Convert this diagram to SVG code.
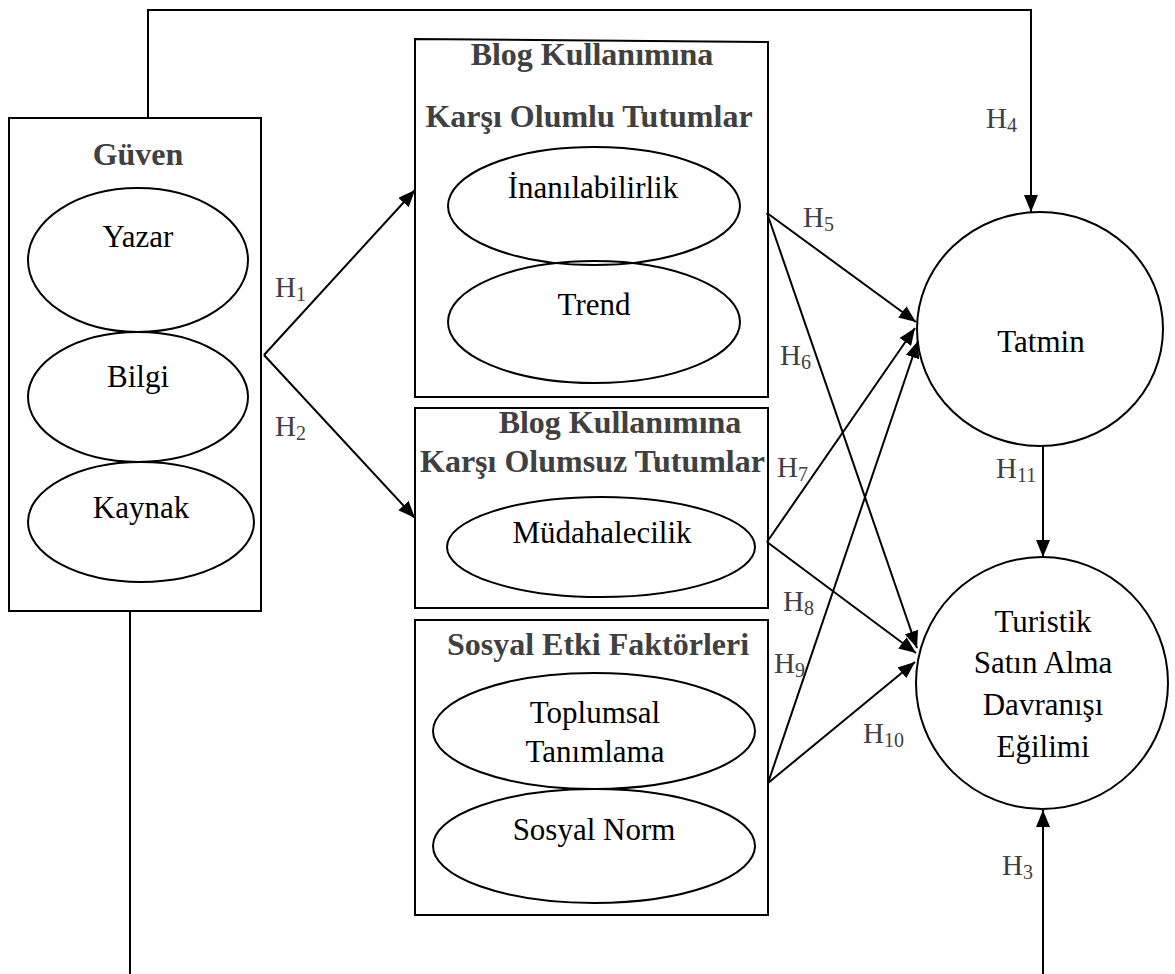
<svg xmlns="http://www.w3.org/2000/svg" width="1175" height="974" viewBox="0 0 1175 974">
  <style>
    .box { fill: none; stroke: #000; stroke-width: 2; }
    .ell { fill: none; stroke: #000; stroke-width: 2; }
    .title { font-family: "Liberation Serif", "Times New Roman", serif; font-weight: bold; font-size: 32px; fill: #404040; }
    .lbl { font-family: "Liberation Serif", "Times New Roman", serif; font-size: 31px; fill: #000; text-anchor: middle; }
    .hyp { font-family: "Liberation Serif", "Times New Roman", serif; font-size: 29px; fill: #404040; }
    .sub { font-size: 20px; }
    .edge { fill: none; stroke: #000; stroke-width: 2; }
  </style>
  <defs>
    <marker id="arrow" markerUnits="userSpaceOnUse" markerWidth="18" markerHeight="14" refX="17" refY="7" orient="auto">
      <path d="M0,0 L17,7 L0,14 z" fill="#000"/>
    </marker>
  </defs>
  <rect width="1175" height="974" fill="#fff"/>

  <!-- Güven -->
  <g id="guven">
    <rect class="box" x="9" y="118" width="252" height="493"/>
    <text class="title" x="138" y="165" text-anchor="middle">Güven</text>
    <ellipse class="ell" cx="138" cy="260" rx="110" ry="72"/>
    <text class="lbl" x="138" y="247">Yazar</text>
    <ellipse class="ell" cx="138" cy="397" rx="110" ry="65"/>
    <text class="lbl" x="138" y="387">Bilgi</text>
    <ellipse class="ell" cx="141" cy="522" rx="113" ry="60"/>
    <text class="lbl" x="141" y="518">Kaynak</text>
  </g>

  <!-- Positive attitudes -->
  <g id="olumlu">
    <path class="box" d="M415,39 L768,42 L768,397 L415,397 Z"/>
    <text class="title" x="592" y="65" text-anchor="middle">Blog Kullanımına</text>
    <text class="title" x="589" y="127" text-anchor="middle">Karşı Olumlu Tutumlar</text>
    <ellipse class="ell" cx="594" cy="206" rx="146" ry="59"/>
    <text class="lbl" x="593" y="198">İnanılabilirlik</text>
    <ellipse class="ell" cx="594" cy="322" rx="146" ry="61"/>
    <text class="lbl" x="594" y="315">Trend</text>
  </g>

  <!-- Negative attitudes -->
  <g id="olumsuz">
    <rect class="box" x="415" y="408" width="353" height="200"/>
    <text class="title" x="620" y="433" text-anchor="middle">Blog Kullanımına</text>
    <text class="title" x="420" y="472">Karşı Olumsuz Tutumlar</text>
    <ellipse class="ell" cx="601" cy="547" rx="154" ry="50"/>
    <text class="lbl" x="602" y="543">Müdahalecilik</text>
  </g>

  <!-- Social influence -->
  <g id="sosyal">
    <rect class="box" x="415" y="620" width="353" height="295"/>
    <text class="title" x="598" y="655" text-anchor="middle">Sosyal Etki Faktörleri</text>
    <ellipse class="ell" cx="594" cy="731" rx="161" ry="58"/>
    <text class="lbl" x="595" y="723">Toplumsal</text>
    <text class="lbl" x="595" y="762">Tanımlama</text>
    <ellipse class="ell" cx="594" cy="846" rx="161" ry="57"/>
    <text class="lbl" x="594" y="840">Sosyal Norm</text>
  </g>

  <!-- Satisfaction -->
  <g id="tatmin">
    <ellipse class="ell" cx="1040" cy="329" rx="123" ry="117"/>
    <text class="lbl" x="1041" y="352">Tatmin</text>
  </g>

  <!-- Purchase intention -->
  <g id="turistik">
    <ellipse class="ell" cx="1042" cy="683" rx="126" ry="126"/>
    <text class="lbl" x="1043" y="632">Turistik</text>
    <text class="lbl" x="1043" y="673">Satın Alma</text>
    <text class="lbl" x="1043" y="715">Davranışı</text>
    <text class="lbl" x="1043" y="757">Eğilimi</text>
  </g>

  <!-- Connectors -->
  <g id="connectors">
    <path class="edge" d="M264,355 L415,190" marker-end="url(#arrow)"/>
    <path class="edge" d="M264,355 L415,518" marker-end="url(#arrow)"/>
    <path class="edge" d="M148,118 L148,10 L1031,10 L1031,212" marker-end="url(#arrow)"/>
    <path class="edge" d="M130,611 L130,974"/>
    <path class="edge" d="M1043,974 L1043,810" marker-end="url(#arrow)"/>
    <path class="edge" d="M1043,446 L1043,557" marker-end="url(#arrow)"/>
    <path class="edge" d="M767,213 L916,322" marker-end="url(#arrow)"/>
    <path class="edge" d="M767,213 L917,648" marker-end="url(#arrow)"/>
    <path class="edge" d="M767,542 L915,328" marker-end="url(#arrow)"/>
    <path class="edge" d="M767,542 L916,653" marker-end="url(#arrow)"/>
    <path class="edge" d="M768,783 L918,341" marker-end="url(#arrow)"/>
    <path class="edge" d="M768,783 L915,662" marker-end="url(#arrow)"/>
  </g>

  <!-- Hypothesis labels -->
  <g id="labels">
    <text class="hyp" x="275" y="297">H<tspan class="sub" dy="4">1</tspan></text>
    <text class="hyp" x="275" y="436">H<tspan class="sub" dy="4">2</tspan></text>
    <text class="hyp" x="1002" y="875">H<tspan class="sub" dy="4">3</tspan></text>
    <text class="hyp" x="986" y="128">H<tspan class="sub" dy="4">4</tspan></text>
    <text class="hyp" x="803" y="227">H<tspan class="sub" dy="4">5</tspan></text>
    <text class="hyp" x="780" y="365">H<tspan class="sub" dy="4">6</tspan></text>
    <text class="hyp" x="777" y="477">H<tspan class="sub" dy="4">7</tspan></text>
    <text class="hyp" x="783" y="611">H<tspan class="sub" dy="4">8</tspan></text>
    <text class="hyp" x="774" y="673">H<tspan class="sub" dy="4">9</tspan></text>
    <text class="hyp" x="863" y="743">H<tspan class="sub" dy="4">10</tspan></text>
    <text class="hyp" x="996" y="478">H<tspan class="sub" dy="4">11</tspan></text>
  </g>
</svg>
